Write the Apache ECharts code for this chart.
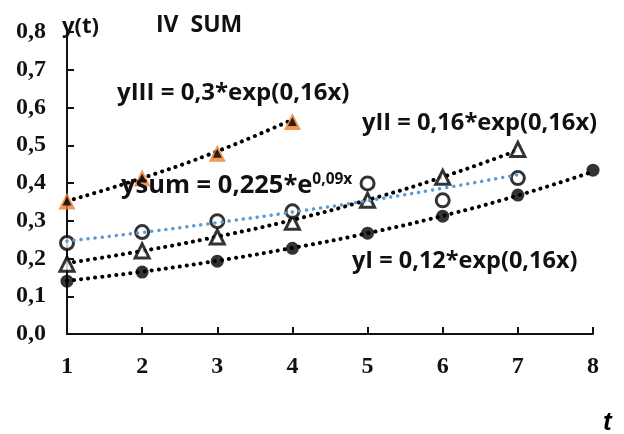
<!DOCTYPE html>
<html><head><meta charset="utf-8">
<script src="https://cdn.jsdelivr.net/npm/echarts@6/dist/echarts.min.js"></script>
<style>html,body{margin:0;padding:0;background:#fff}#c{width:624px;height:434px}</style>
</head><body><div id="c"></div>
<script>
// data
const tValues = [1, 2, 3, 4, 5, 6, 7, 8];
const yTickValues = [0, 0.1, 0.2, 0.3, 0.4, 0.5, 0.6, 0.7, 0.8];
const yI = [0.140, 0.164, 0.193, 0.227, 0.267, 0.312, 0.368, 0.434];
const yII = [0.185, 0.220, 0.257, 0.296, 0.354, 0.415, 0.489];
const yIII = [0.352, 0.413, 0.479, 0.563];
const ySum = [0.241, 0.270, 0.299, 0.325, 0.399, 0.354, 0.413];
const trendI = [0.141, 0.165, 0.194, 0.228, 0.267, 0.313, 0.367, 0.430];
const trendII = [0.188, 0.220, 0.258, 0.302, 0.355, 0.416, 0.487];
const trendIII = [0.352, 0.413, 0.484, 0.568];
const trendSum = [0.246, 0.269, 0.295, 0.323, 0.353, 0.386, 0.422];

const pts = arr => arr.map((v, i) => [tValues[i], v]);
const dotLine = (color, w) => ({ color: color, width: w, type: [0.1, 7], cap: 'round' });

const chart = echarts.init(document.getElementById('c'), null, { renderer: 'canvas' });
const trend = (name, data, color, w) => ({
  name, type: 'line', data: pts(data), smooth: true, symbol: 'none',
  lineStyle: dotLine(color, w), z: 3, silent: true
});
const scat = (name, data, symbol, size, style, z) => ({
  name, type: 'scatter', data: pts(data), symbol, symbolSize: size,
  itemStyle: style, z: z || 4
});
const FF = 'Open Sans';
const labelFont = { fontFamily: FF, fontWeight: 'bold', fill: '#111' };
chart.setOption({
  animation: false,
  grid: { left: 67, right: 31, top: 32, bottom: 100 },
  xAxis: {
    type: 'value', min: 1, max: 8, interval: 1,
    axisLine: { lineStyle: { color: '#111', width: 2 } },
    axisTick: { inside: true, length: 7, lineStyle: { color: '#111', width: 2 } },
    splitLine: { show: false },
    axisLabel: { margin: 21, color: '#111', fontFamily: 'Liberation Serif', fontWeight: 'bold', fontSize: 24 }
  },
  yAxis: {
    type: 'value', min: 0, max: 0.8, interval: 0.1,
    axisLine: { show: true, lineStyle: { color: '#111', width: 2 } },
    axisTick: { show: true, inside: true, length: 7, lineStyle: { color: '#111', width: 2 } },
    splitLine: { show: false },
    axisLabel: { margin: 21, color: '#111', fontFamily: 'Liberation Serif', fontWeight: 'bold', fontSize: 24,
      formatter: v => yTickValues.some(t => Math.abs(t - v) < 1e-9) ? v.toFixed(1).replace('.', ',') : '' }
  },
  series: [
    trend('trendI', trendI, '#000', 4),
    trend('trendII', trendII, '#000', 4),
    trend('trendIII', trendIII, '#000', 4),
    scat('yI', yI, 'circle', 13, { color: '#000' }),
    scat('yII', yII, 'triangle', 14, { color: '#fff', borderColor: '#000', borderWidth: 3 }),
    scat('yIII', yIII, 'triangle', 17, { color: '#ED7D31' }),
    scat('yIIIin', yIII, 'triangle', 9, { color: '#000' }, 5),
    scat('ySum', ySum, 'circle', 13, { color: '#fff', borderColor: '#000', borderWidth: 3 }),
    Object.assign(trend('trendSum', trendSum, '#5B9BD5', 3.5), { z: 6 })
  ],
  graphic: [
    { type: 'text', left: 62, top: 16, style: Object.assign({ text: 'y(t)', fontSize: 22 }, labelFont) },
    { type: 'text', left: 156, top: 14, style: Object.assign({ text: 'IV  SUM', fontSize: 23 }, labelFont) },
    { type: 'text', left: 117, top: 81, style: Object.assign({ text: 'yIII = 0,3*exp(0,16x)', fontSize: 24 }, labelFont) },
    { type: 'text', left: 362, top: 111, style: Object.assign({ text: 'yII = 0,16*exp(0,16x)', fontSize: 23.7 }, labelFont) },
    { type: 'text', left: 352, top: 249, style: Object.assign({ text: 'yI = 0,12*exp(0,16x)', fontSize: 23.5 }, labelFont) },
    { type: 'text', left: 121, top: 172, z: 10, style: {
        text: '{a|ysum = 0,225*e}{b|0,09x}',
        rich: { a: { fontSize: 25.5, fontFamily: FF, fontWeight: 'bold', fill: '#111' },
                b: { fontSize: 15.5, fontFamily: FF, fontWeight: 'bold', fill: '#111', verticalAlign: 'top', padding: [0, 0, 11, 0] } } } },
    { type: 'text', left: 603, top: 410, style: { text: 't', fontSize: 26, fontFamily: 'Liberation Sans', fontWeight: 'bold', fontStyle: 'italic', fill: '#000' } }
  ]
});
</script></body></html>
